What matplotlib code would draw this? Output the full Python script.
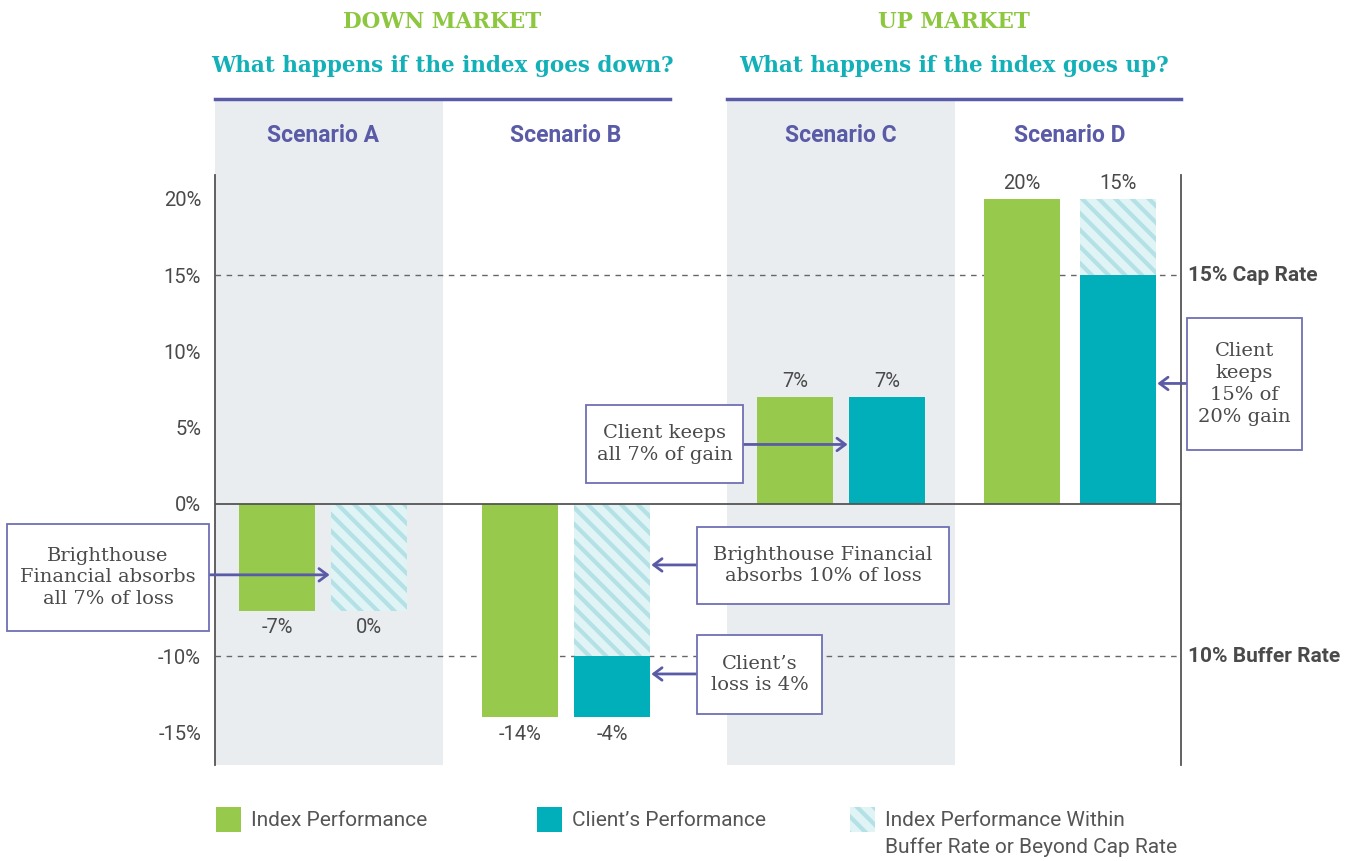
import matplotlib.pyplot as plt
from matplotlib.patches import Rectangle, FancyArrowPatch

plt.rcParams['font.family'] = ['Roboto', 'DejaVu Sans']
plt.rcParams['hatch.linewidth'] = 3.0

W, H = 1356, 861
SLAB = ['DejaVu Serif']

# data
scenarios = ['Scenario A', 'Scenario B', 'Scenario C', 'Scenario D']
index_perf = [-7, -14, 7, 20]
client_perf = [0, -4, 7, 15]
cap_rate = 15
buffer_rate = -10
yticks = [-15, -10, -5, 0, 5, 10, 15, 20]
hidden_ticks = [-5]  # covered by the left call-out box in the original

# colours
GREEN = '#97c94d'
TEAL = '#00afba'
HATCH_BG = '#e0f3f5'
HATCH_FG = '#b3e1e6'
PURPLE = '#5a5ba7'
BAND = '#eaedf0'
GRAY_TXT = '#4a4a4a'
HATCH = '\\\\'

# layout (x units = pixels right of the left spine)
green_x = [62, 305, 580, 807]
client_x = [154, 397, 672, 903]
bar_w = 76
shaded = [(0, 228), (512, 740)]

fig = plt.figure(figsize=(W / 100, H / 100), dpi=100)
ax = fig.add_axes([215 / W, (H - 765) / H, 966 / W, 590 / H])
ax.set_xlim(0, 966)
ax.set_ylim(-17.12, 21.57)

for x0, x1 in shaded:
    ax.axvspan(x0, x1, ymin=0, ymax=(765 - 100) / 590, color=BAND, lw=0,
               zorder=0, clip_on=False)

ax.axhline(cap_rate, color='#666666', lw=1, ls=(0, (4, 4)), zorder=1)
ax.axhline(buffer_rate, color='#666666', lw=1, ls=(0, (4, 4)), zorder=1)
ax.axhline(0, color='#555555', lw=1.3, zorder=4)

for i in range(len(scenarios)):
    ip, cp = index_perf[i], client_perf[i]
    ax.bar(green_x[i], ip, width=bar_w, color=GREEN, lw=0, zorder=2)
    if ip < 0:
        hatch_bottom = max(ip, buffer_rate)
        ax.bar(client_x[i], hatch_bottom, width=bar_w, facecolor=HATCH_BG,
               edgecolor=HATCH_FG, hatch=HATCH, lw=0, zorder=2)
        if cp < 0:
            ax.bar(client_x[i], cp, bottom=buffer_rate, width=bar_w,
                   color=TEAL, lw=0, zorder=2)
        ax.text(green_x[i], ip - 0.5, f'{ip}%', ha='center', va='top',
                fontsize=14.5, color=GRAY_TXT)
        ax.text(client_x[i], ip - 0.5, f'{cp}%', ha='center', va='top',
                fontsize=14.5, color=GRAY_TXT)
    else:
        solid = min(ip, cap_rate)
        ax.bar(client_x[i], solid, width=bar_w, color=TEAL, lw=0, zorder=2)
        if ip > cap_rate:
            ax.bar(client_x[i], ip - cap_rate, bottom=cap_rate, width=bar_w,
                   facecolor=HATCH_BG, edgecolor=HATCH_FG, hatch=HATCH,
                   lw=0, zorder=2)
        ax.text(green_x[i], ip + 0.4, f'{ip}%', ha='center', va='bottom',
                fontsize=14.5, color=GRAY_TXT)
        ax.text(client_x[i], ip + 0.4, f'{cp}%', ha='center', va='bottom',
                fontsize=14.5, color=GRAY_TXT)

# axes styling
ax.set_yticks(yticks)
ax.set_yticklabels(['' if t in hidden_ticks else f'{t}%' for t in yticks],
                   fontsize=14.5, color=GRAY_TXT)
ax.tick_params(axis='y', length=0, pad=10)
ax.set_xticks([])
for s in ['top', 'bottom']:
    ax.spines[s].set_visible(False)
for s in ['left', 'right']:
    ax.spines[s].set_color('#555555')
    ax.spines[s].set_linewidth(1.3)
ax.patch.set_alpha(0)

# rate labels
for val, lab in [(cap_rate, f'{cap_rate}% Cap Rate'),
                 (buffer_rate, f'{-buffer_rate}% Buffer Rate')]:
    ax.text(973, val, lab, ha='left', va='center', fontsize=15,
            fontweight='bold', color='#4a4a4a', clip_on=False)

# scenario labels
for i, name in enumerate(scenarios):
    cx = (green_x[i] + client_x[i]) / 2
    ax.text(cx, 21.57 + 2.6, name, ha='center', va='center', fontsize=16.5,
            fontweight='bold', color=PURPLE, clip_on=False)


# header
def fx(x):
    return x / W


def fy(y):
    return 1 - y / H


for (x0, x1), top, sub in [((215, 670), 'DOWN MARKET', 'What happens if the index goes down?'),
                           ((727, 1181), 'UP MARKET', 'What happens if the index goes up?')]:
    cx = (x0 + x1) / 2
    fig.text(fx(cx), fy(22), top, ha='center', va='center', fontsize=15.5,
             fontweight='bold', color='#8dc63f', family=SLAB)
    fig.text(fx(cx), fy(66), sub, ha='center', va='center', fontsize=15.5,
             fontweight='bold', color='#14b0b8', family=SLAB)
    fig.add_artist(plt.Line2D([fx(x0), fx(x1)], [fy(99), fy(99)],
                              color=PURPLE, lw=2.5))

# annotation boxes: (left, top, right, bottom) in pixels, text, arrow y (value), arrow target x
boxes = [
    ((7, 524, 209, 631), 'Brighthouse\nFinancial absorbs\nall 7% of loss', -4.65, client_x[0] - bar_w / 2, 'right'),
    ((586, 405, 743, 483), 'Client keeps\nall 7% of gain', 3.9, client_x[2] - bar_w / 2, 'right'),
    ((1187, 318, 1302, 450), 'Client\nkeeps\n15% of\n20% gain', 7.9, client_x[3] + bar_w / 2, 'left'),
    ((697, 527, 949, 604), 'Brighthouse Financial\nabsorbs 10% of loss', -4.0, client_x[1] + bar_w / 2, 'left'),
    ((697, 635, 822, 714), 'Client\u2019s\nloss is 4%', -11.15, client_x[1] + bar_w / 2, 'left'),
]
for (l, t, r, b), txt, ay, tx, side in boxes:
    fig.add_artist(Rectangle((fx(l), fy(b)), fx(r - l), (b - t) / H,
                             transform=fig.transFigure, facecolor='white',
                             edgecolor='#6f70b5', lw=1.3, zorder=5))
    fig.text(fx((l + r) / 2), fy((t + b) / 2), txt, ha='center', va='center',
             fontsize=14, color=GRAY_TXT, family=SLAB, linespacing=1.28,
             zorder=6)
    start = (r - 215) if side == 'right' else (l - 215)
    arrow = FancyArrowPatch((start, ay), (tx, ay),
                            arrowstyle='->,head_length=6,head_width=4.5',
                            color=PURPLE, lw=2, shrinkA=0, shrinkB=1,
                            clip_on=False, zorder=6)
    ax.add_patch(arrow)

# legend
legend_items = [(216, 'Index Performance', GREEN, None),
                (537, 'Client\u2019s Performance', TEAL, None),
                (850, 'Index Performance Within\nBuffer Rate or Beyond Cap Rate', HATCH_BG, HATCH_FG)]
for lx, lab, col, hc in legend_items:
    if hc:
        rect = Rectangle((fx(lx), fy(832)), fx(25), 25 / H, transform=fig.transFigure,
                         facecolor=col, edgecolor=hc, hatch=HATCH, lw=0)
    else:
        rect = Rectangle((fx(lx), fy(832)), fx(25), 25 / H, transform=fig.transFigure,
                         facecolor=col, lw=0)
    fig.add_artist(rect)
    ty = 834 if '\n' in lab else 820
    fig.text(fx(lx + 35), fy(ty), lab, ha='left', va='center',
             fontsize=15, color='#555555', linespacing=1.45)

fig.savefig('out.png', dpi=100)
